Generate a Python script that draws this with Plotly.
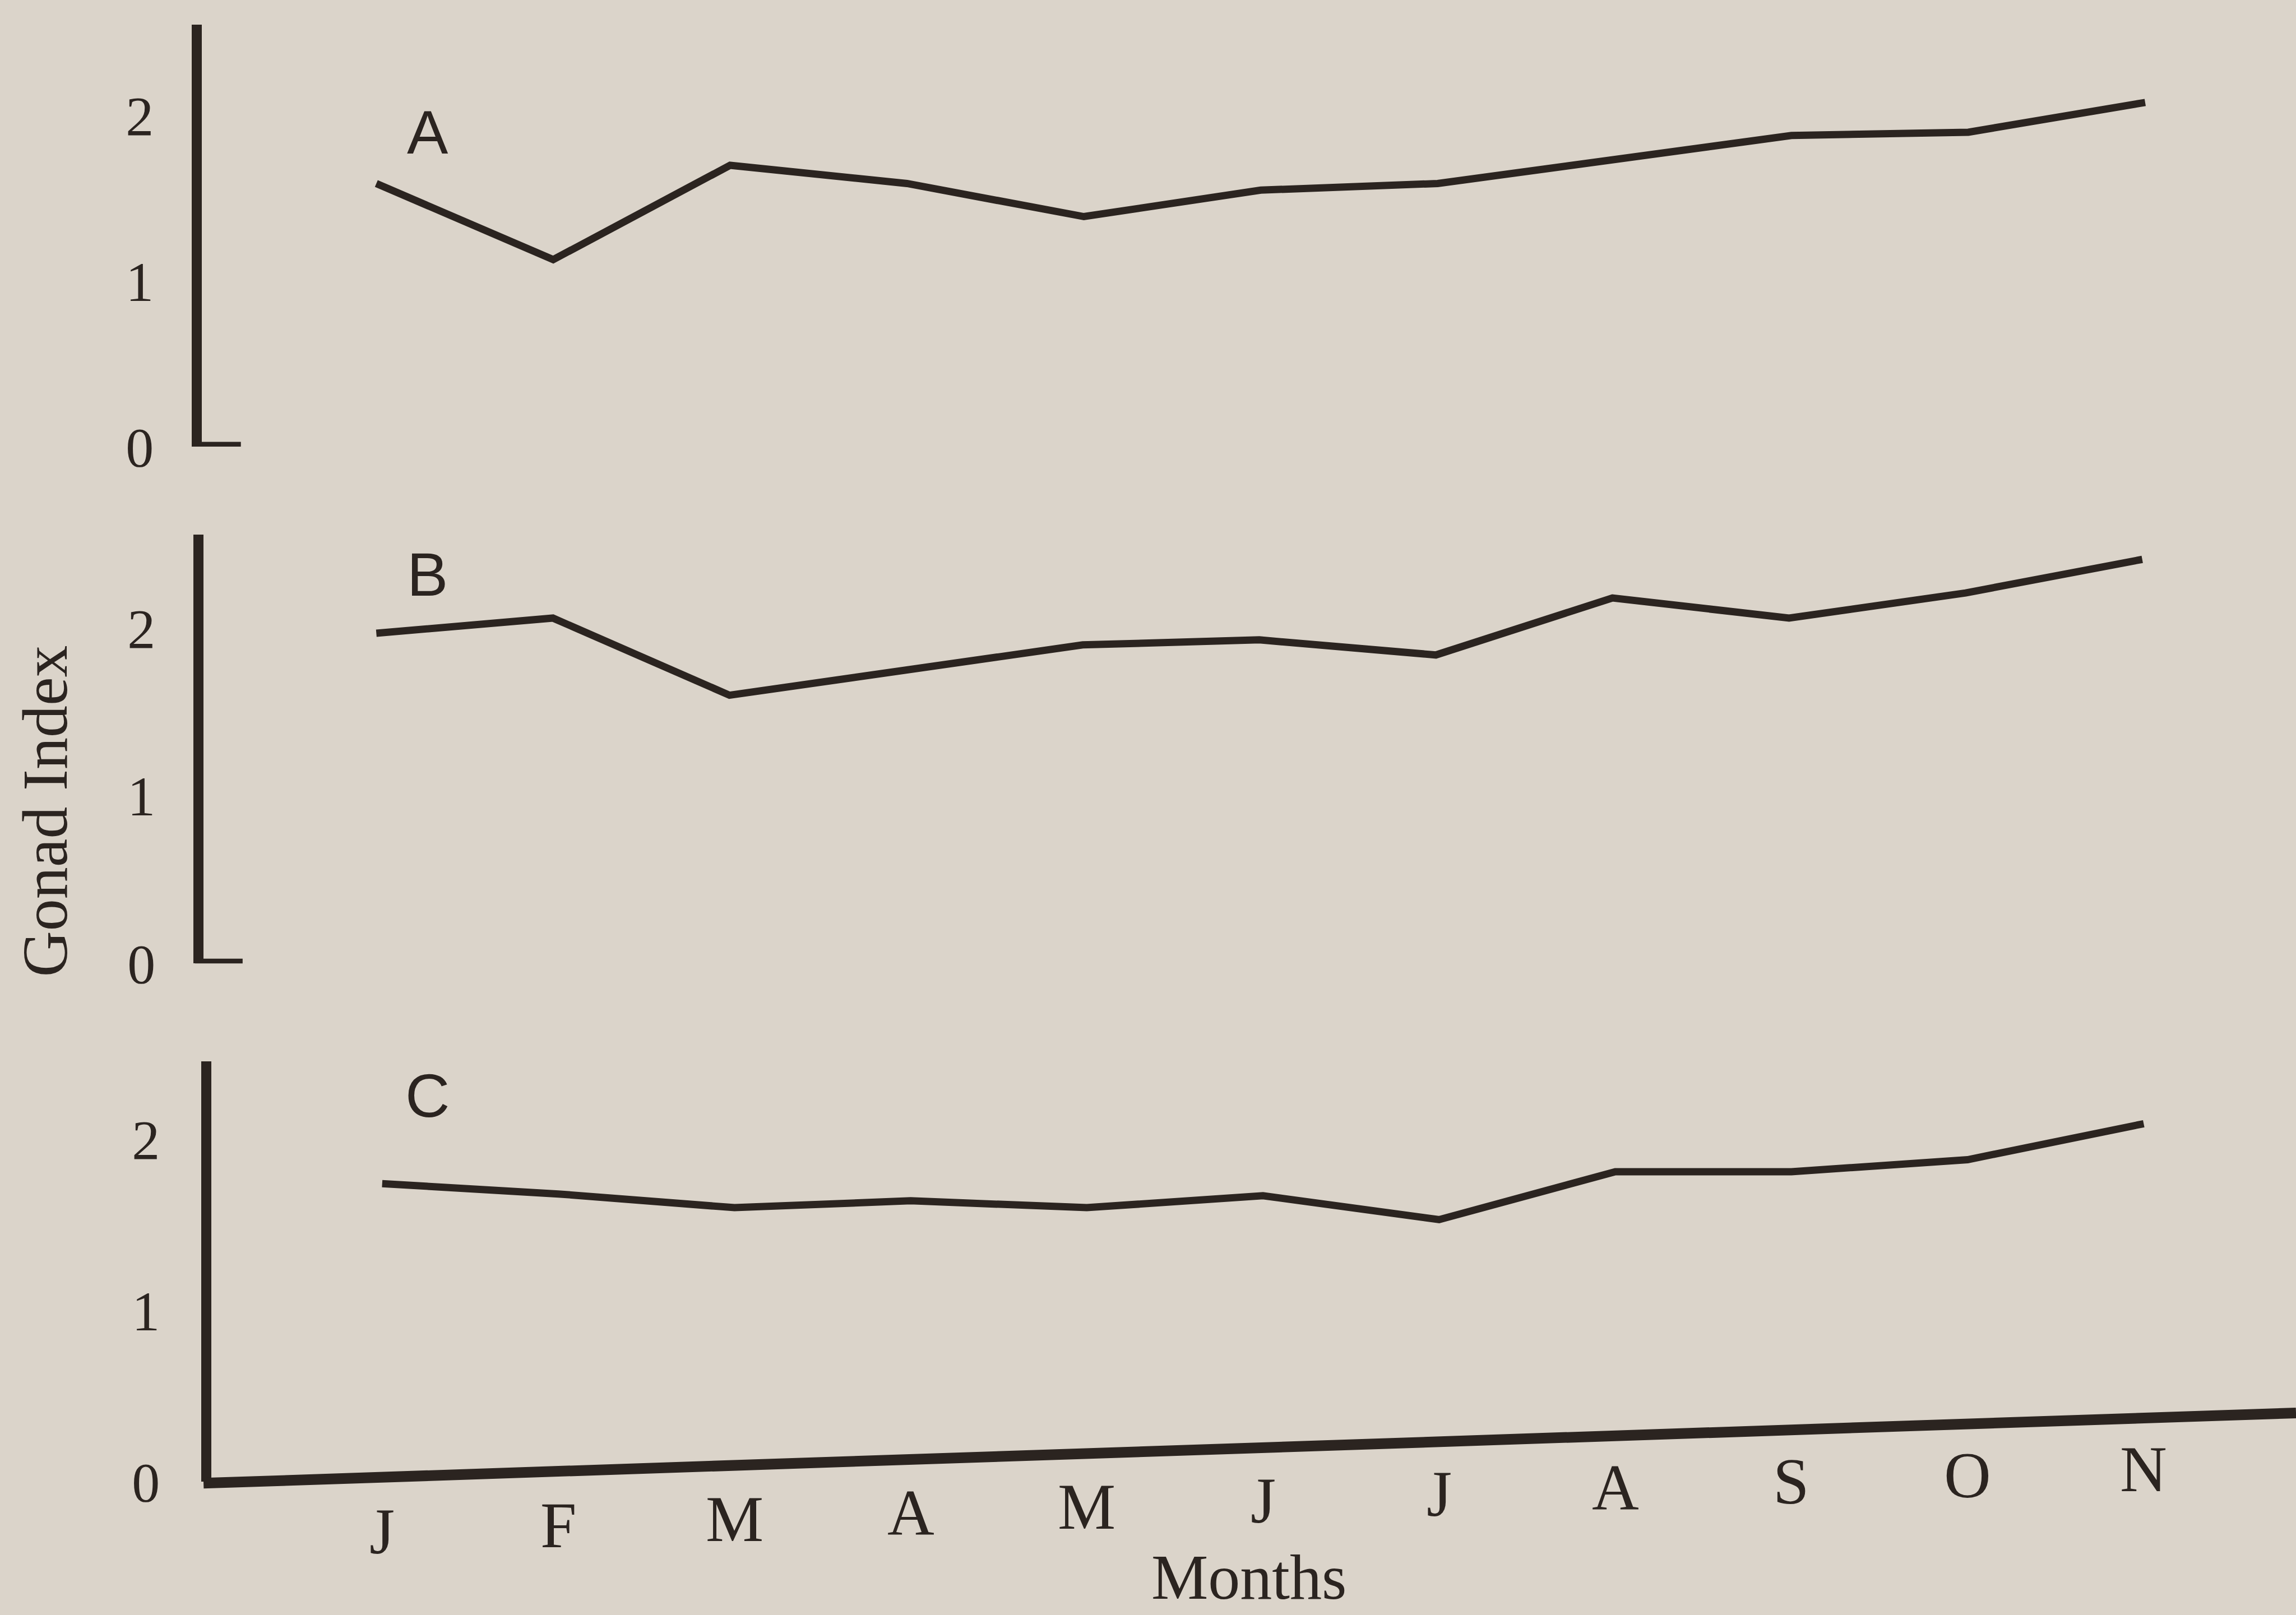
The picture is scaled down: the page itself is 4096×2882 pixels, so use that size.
import plotly.graph_objects as go

months = ["J", "F", "M", "A", "M", "J", "J", "A", "S", "O", "N"]
series_a = [1.59, 1.13, 1.70, 1.59, 1.39, 1.55, 1.59, 1.73, 1.88, 1.90, 2.08]
series_b = [1.97, 2.06, 1.60, 1.75, 1.90, 1.93, 1.84, 2.18, 2.06, 2.21, 2.41]
series_c = [1.74, 1.68, 1.60, 1.64, 1.60, 1.67, 1.53, 1.81, 1.81, 1.88, 2.09]
panel_labels = ["A", "B", "C"]
y_ticks = [0, 1, 2]

INK = "#2b2420"
BG = "#dbd4ca"
W, H = 4096, 2882
TW, TH = 1568.0, 1103.0  # reference thumbnail geometry used for layout fractions
LINE_HALF = 3.4          # half of the y-axis line width, in thumbnail px

def fx(px):
    return px / TW

def fy(py):
    return 1 - py / TH

x_idx = list(range(len(months)))

fig = go.Figure()

panels = [
    # (series, xaxis, yaxis, axis_x, zero_y, top_y, unit, first_x, step, label_y, standoff)
    (series_a, "x", "y", 134.5, 305.0, 17.0, 113.0, 257.0, 120.8, 90.0, 48),
    (series_b, "x2", "y2", 135.7, 658.0, 365.0, 114.5, 257.0, 120.6, 392.0, 48),
    (series_c, "x3", "y3", 141.0, 1012.0, 725.0, 117.0, 261.0, 120.3, 748.0, 54),
]

layout = dict(
    width=W, height=H,
    margin=dict(l=0, r=0, t=0, b=0, pad=0, autoexpand=False),
    paper_bgcolor=BG, plot_bgcolor=BG,
    showlegend=False,
)

shapes = []
annotations = []

for i, (vals, xa, ya, ax_x, zero_y, top_y, unit, first_x, step, lab_y, so) in enumerate(panels):
    fig.add_trace(go.Scatter(
        x=x_idx, y=vals, mode="lines",
        line=dict(color=INK, width=13),
        xaxis=xa, yaxis=ya, hoverinfo="skip",
    ))
    xkey = "xaxis" if xa == "x" else "xaxis" + xa[1:]
    ykey = "yaxis" if ya == "y" else "yaxis" + ya[1:]
    dom_left = ax_x + LINE_HALF
    x0 = (dom_left - first_x) / step
    x1 = (TW - first_x) / step
    layout[xkey] = dict(
        domain=[fx(dom_left), 1.0], range=[x0, x1],
        showgrid=False, zeroline=False, showline=False,
        showticklabels=False, ticks="", anchor=ya,
    )
    layout[ykey] = dict(
        domain=[fy(zero_y), fy(top_y)], range=[0, (zero_y - top_y) / unit],
        showgrid=False, zeroline=False,
        showline=True, linecolor=INK, linewidth=18,
        tickvals=y_ticks, ticktext=[str(t) for t in y_ticks],
        ticks="", ticklabelstandoff=so,
        tickfont=dict(family="Liberation Serif", size=100, color=INK),
        anchor=xa,
    )
    annotations.append(dict(
        x=fx(292), y=fy(lab_y), xref="paper", yref="paper",
        text=panel_labels[i], showarrow=False,
        font=dict(family="Liberation Sans", size=110, color=INK),
        xanchor="center", yanchor="middle",
    ))
    if i < 2:
        shapes.append(dict(
            type="line", xref="paper", yref=ya,
            x0=fx(ax_x - 2.5), x1=fx(ax_x + 30), y0=0, y1=0,
            line=dict(color=INK, width=17),
        ))

# bottom x axis (slightly slanted as in the photographed page)
shapes.append(dict(
    type="line", xref="paper", yref="paper",
    x0=fx(139), y0=fy(1013), x1=1.0, y1=fy(965),
    line=dict(color=INK, width=19),
))

first_x, step = 260.0, 120.4
for i, m in enumerate(months):
    px = first_x + i * step
    py = 1046 - 0.0355 * (px - 264)
    annotations.append(dict(
        x=i, y=fy(py), xref="x3", yref="paper",
        text=m, showarrow=False,
        font=dict(family="Liberation Serif", size=116, color=INK),
        xanchor="center", yanchor="middle",
    ))

annotations.append(dict(
    x=fx(853), y=fy(1077), xref="paper", yref="paper",
    text="Months", showarrow=False,
    font=dict(family="Liberation Serif", size=114, color=INK),
    xanchor="center", yanchor="middle",
))
annotations.append(dict(
    x=fx(31), y=fy(554), xref="paper", yref="paper",
    text="Gonad Index", showarrow=False, textangle=-90,
    font=dict(family="Liberation Serif", size=114, color=INK),
    xanchor="center", yanchor="middle",
))

layout["shapes"] = shapes
layout["annotations"] = annotations
fig.update_layout(**layout)

fig.write_html(
    "out.html",
    config={"displayModeBar": False},
    post_script="document.body.style.margin='0px';document.body.style.overflow='hidden';",
)
